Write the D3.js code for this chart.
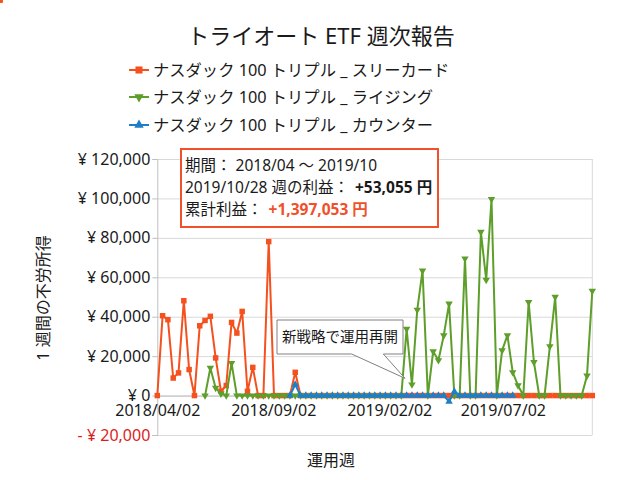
<!DOCTYPE html>
<html><head><meta charset="utf-8">
<script src="https://cdn.jsdelivr.net/npm/d3@7"></script>
<style>
body{margin:0;background:#fff;}
svg{font-family:'Noto Sans','Noto Sans CJK JP',sans-serif;}
</style></head>
<body><svg id="c" width="640" height="480"></svg>
<script>
// ---- data ----
const weekStart = new Date(2018, 3, 2);
const weekCount = 83;
const seriesNames = ["ナスダック 100 トリプル _ スリーカード","ナスダック 100 トリプル _ ライジング","ナスダック 100 トリプル _ カウンター"];
const threeCard = [0,40500,38500,8900,11500,48100,13200,0,35400,38100,40200,19100,2200,5100,37100,31700,42700,2200,14300,0,0,78100,0,0,0,0,11800,
 0,0,0,0,0,0,0,0,0,0,0,0,0,0,0,0,0,0,0,0,0,0,0,0,0,0,0,0,0,0,0,0,0,0,0,0,0,0,0,0,0,0,0,0,0,0,0,0,0,0,0,0,0,0,0,0,0,0];
const rising = [null,null,null,null,null,null,null,null,null,0,14000,3900,1000,0,16500,
 0,0,0,0,0,0,0,0,0,0,0,0,0,0,0,0,0,0,0,0,0,0,0,0,0,0,0,0,0,0,0,0,
 33800,5600,43500,63400,0,22400,17900,30500,46600,0,0,69500,0,0,83000,58700,99600,0,22900,30500,11800,5100,0,47400,16900,0,0,25000,50000,0,0,0,0,0,10100,53055];
const counter = [null,null,null,null,null,null,null,null,null,null,null,null,null,null,null,null,null,null,null,null,null,null,null,null,null,0,5600,
 0,0,0,0,0,0,0,0,0,0,0,0,0,0,0,0,0,0,0,0,0,0,0,0,0,0,0,0,-3000,2000,0,0,0,0,0,0,0,0,0,0,0,
 null,null,null,null,null,null,null,null,null,null,null,null,null,null,null];
const yTicks = [-20000,0,20000,40000,60000,80000,100000,120000];
const xTickDates = [new Date(2018,3,2), new Date(2018,8,2), new Date(2019,1,2), new Date(2019,6,2)];
const title = "トライオート ETF 週次報告";
const infoLines = ["期間： 2018/04 ～ 2019/10","2019/10/28 週の利益：","+53,055 円","累計利益：","+1,397,053 円"];
const calloutText = "新戦略で運用再開";

// ---- chart ----
const weeks = d3.range(weekCount).map(i => d3.timeDay.offset(weekStart, 7*i));
const colors = ["#f4511e","#5e9e2a","#1f7ec8"];
const svg = d3.select("#c");
svg.append("rect").attr("width",640).attr("height",480).attr("fill","#fff");

const L = 157.3, R = 592.3;
const x = d3.scaleTime().domain([weeks[0], weeks[weekCount-1]]).range([L, R]);
const y = d3.scaleLinear().domain([-20000,120000]).range([435,159]);

// gridlines
svg.append("g").attr("transform",`translate(${L},0)`)
  .call(d3.axisLeft(y).tickValues(yTicks).tickSize(-(R-L)).tickFormat(""))
  .call(g=>g.select(".domain").remove())
  .call(g=>g.selectAll("line").attr("stroke","#d9d9d9"));
// right border
svg.append("line").attr("x1",R).attr("x2",R).attr("y1",y(120000)).attr("y2",y(-20000)).attr("stroke","#d9d9d9");

// y axis
const fmt = d3.format(",");
svg.append("g").attr("transform",`translate(${L},0)`)
  .call(d3.axisLeft(y).tickValues(yTicks).tickSize(5).tickPadding(2)
    .tickFormat(v => v<0 ? "- ¥ "+fmt(-v) : v===0 ? "¥ 0" : "¥ "+fmt(v)))
  .call(g=>g.select(".domain").attr("stroke","#bfbfbf"))
  .call(g=>g.selectAll("line").attr("stroke","#bfbfbf"))
  .call(g=>g.selectAll("text").attr("font-size",16).attr("font-family","'Noto Sans','Noto Sans CJK JP',sans-serif")
     .attr("fill",d=>d<0?"#dd1c1c":"#1a1a1a"));

// x axis at zero
svg.append("g").attr("transform",`translate(0,${y(0)})`)
  .call(d3.axisBottom(x).tickValues(xTickDates).tickSize(0).tickPadding(9).tickFormat(d3.timeFormat("%Y/%m/%d")))
  .call(g=>g.select(".domain").attr("stroke","#bfbfbf"))
  .call(g=>g.selectAll("text").attr("font-size",16).attr("font-family","'Noto Sans','Noto Sans CJK JP',sans-serif").attr("fill","#1a1a1a"));

// series
const allSeries = [threeCard, rising, counter];
const symbols = [
  d3.symbol().type(d3.symbolSquare).size(30),
  d3.symbol().type(d3.symbolTriangle).size(24),
  d3.symbol().type(d3.symbolTriangle).size(24)
];
const rot = [0,180,0];
allSeries.forEach((s,k)=>{
  const line = d3.line().defined(d=>d!=null).x((d,i)=>x(weeks[i])).y(d=>y(d));
  svg.append("path").datum(s).attr("d",line).attr("fill","none").attr("stroke",colors[k]).attr("stroke-width",2).attr("stroke-linejoin","round");
  svg.append("g").selectAll("path").data(s.map((v,i)=>({v,i})).filter(d=>d.v!=null)).join("path")
    .attr("d",symbols[k])
    .attr("transform",d=>`translate(${x(weeks[d.i])},${y(d.v)}) rotate(${rot[k]})`)
    .attr("fill",colors[k]);
});

// title
svg.append("text").attr("x",321).attr("y",44).attr("text-anchor","middle").attr("font-size",22).attr("fill","#1a1a1a").text(title);

// legend
const legSym = [
  d3.symbol().type(d3.symbolSquare).size(50),
  d3.symbol().type(d3.symbolTriangle).size(38),
  d3.symbol().type(d3.symbolTriangle).size(38)
];
const legY = [70,97,125];
seriesNames.forEach((n,k)=>{
  const g = svg.append("g").attr("transform",`translate(0,${legY[k]})`);
  g.append("line").attr("x1",129).attr("x2",149).attr("stroke",colors[k]).attr("stroke-width",2);
  g.append("path").attr("d",legSym[k]).attr("transform",`translate(139,0) rotate(${rot[k]})`).attr("fill",colors[k]);
  g.append("text").attr("x",153).attr("y",6).attr("font-size",16.3).attr("fill","#1a1a1a").text(n);
});

// info box
svg.append("rect").attr("x",181).attr("y",149).attr("width",257).attr("height",78)
  .attr("fill","#fff").attr("stroke","#f0502a").attr("stroke-width",2);
const t1 = svg.append("text").attr("x",185).attr("y",171).attr("font-size",15.5).attr("fill","#1a1a1a");
t1.text(infoLines[0]);
const t2 = svg.append("text").attr("x",185).attr("y",193).attr("font-size",15.5).attr("fill","#1a1a1a");
t2.append("tspan").text(infoLines[1]);
t2.append("tspan").attr("dx",6).attr("font-weight","bold").text(infoLines[2]);
const t3 = svg.append("text").attr("x",185).attr("y",215).attr("font-size",15.5).attr("fill","#1a1a1a");
t3.append("tspan").text(infoLines[3]);
t3.append("tspan").attr("dx",6).attr("font-weight","bold").attr("fill","#f0502a").text(infoLines[4]);

// callout
const cx0=277, cy0=320, cx1=403, cy1=354;
svg.append("path")
  .attr("d",`M${cx0},${cy0} H${cx1} V${cy1} H383.3 L405,378.3 L351.7,${cy1} H${cx0} Z`)
  .attr("fill","#fff").attr("stroke","#808080").attr("stroke-width",1);
svg.append("text").attr("x",340).attr("y",342).attr("text-anchor","middle").attr("font-size",14.5).attr("fill","#1a1a1a").text(calloutText);

// axis titles
svg.append("text").attr("x",331).attr("y",466).attr("text-anchor","middle").attr("font-size",16).attr("fill","#1a1a1a").text("運用週");
svg.append("text").attr("transform","translate(49,298) rotate(-90)").attr("text-anchor","middle").attr("font-size",16).attr("fill","#1a1a1a").text("1 週間の不労所得");
</script></body></html>
